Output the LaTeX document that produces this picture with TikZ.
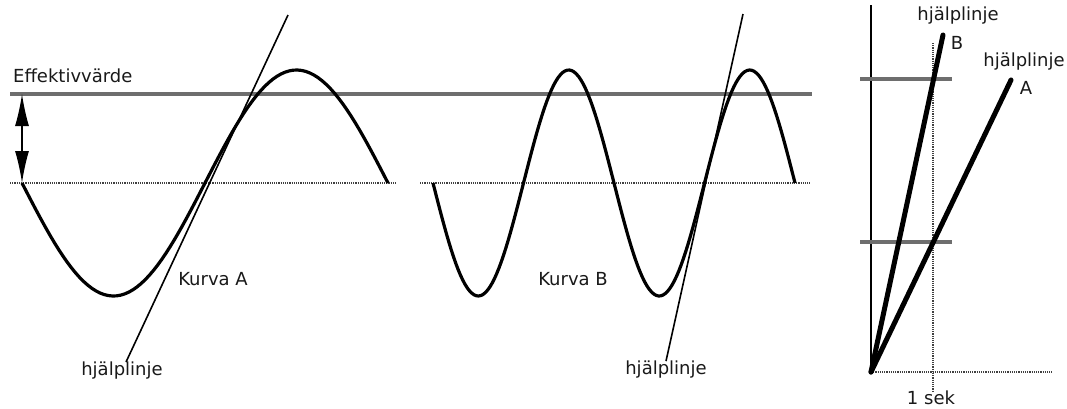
\documentclass[tikz,border=0pt]{standalone}
\usepackage{fontspec}
\setmainfont{DejaVu Sans}
\usetikzlibrary{arrows.meta, positioning}
\definecolor{refline}{HTML}{6E6E6E}
\definecolor{axisgray}{HTML}{404040}

\begin{document}
\begin{tikzpicture}[
    x=1pt, y=-1pt,
    font=\fontsize{18}{20}\selectfont,
    lbl/.style={inner sep=0pt, text=black!90},
    curve/.style={black, line width=3.2pt, line join=round},
    aux/.style={black, line width=1.6pt},
    rms/.style={refline, line width=3.6pt},
    zeroaxis/.style={axisgray, line width=2.4pt, dash pattern=on 1.2pt off 1pt},
    ramp/.style={black, line width=5pt, line cap=round},
    ar/.style={{Latex[length=32pt, width=14pt]}-{Latex[length=32pt, width=14pt]}, black, line width=1.3pt}
  ]
    \useasboundingbox (0,0) rectangle (1067,408);
    % left and middle: sine curves
    \draw[rms] (10,94) -- (812,94);
    \draw[zeroaxis] (10,183) -- (397,183);
    \draw[zeroaxis] (420,183) -- (810,183);
    \node[lbl, anchor=west] (eff) at (13,76) {Effektivvärde};
    \coordinate (effTop) at (22,94);
    \coordinate (effBot) at (22,183);
    \draw[ar] (effTop) -- (effBot);
    \draw[curve] plot[domain=22:388, samples=90] (\x, {183 + 113*sin((\x-22)/183*180)});
    \draw[curve] plot[domain=433:795, samples=160] (\x, {183 + 113*sin((\x-433)/90.5*180)});
    \node[lbl] (kurvaA) at (213,279) {Kurva A};
    \node[lbl] (kurvaB) at (573,279) {Kurva B};
    \node[lbl] (hjA) at (122,371) {hjälplinje};
    \node[lbl] (hjB) at (666,370) {hjälplinje};
    \coordinate (tanA) at (288,15);
    \coordinate (tanB) at (743,14);
    \draw[aux] (tanA) -- ([xshift=4pt]hjA.north);
    \draw[aux] (tanB) -- (hjB.north);
    % right: the two ramps
    \coordinate (o) at (871,372);
    \draw[black, line width=1.2pt] (871,5) -- (o);
    \draw[zeroaxis] (o) -- (1052,372);
    \draw[rms] (860,79) -- (952,79);
    \draw[rms] (860,242) -- (952,242);
    \node[lbl] (sek) at (931,398) {1 sek};
    \coordinate (sekTop) at (933,43);
    \draw[axisgray, line width=1.5pt, dash pattern=on 1.2pt off 1pt] (sekTop) -- (sek.north -| sekTop);
    \coordinate (endB) at (943,35);
    \coordinate (endA) at (1011,80);
    \draw[ramp] (o) -- (endB);
    \draw[ramp] (o) -- (endA);
    \node[lbl] (hjRB) at (958,16) {hjälplinje};
    \node[lbl] (lB) at (957,43) {B};
    \node[lbl] (hjRA) at (1024,62) {hjälplinje};
    \node[lbl] (lA) at (1026,88) {A};
  \end{tikzpicture}
\end{document}
